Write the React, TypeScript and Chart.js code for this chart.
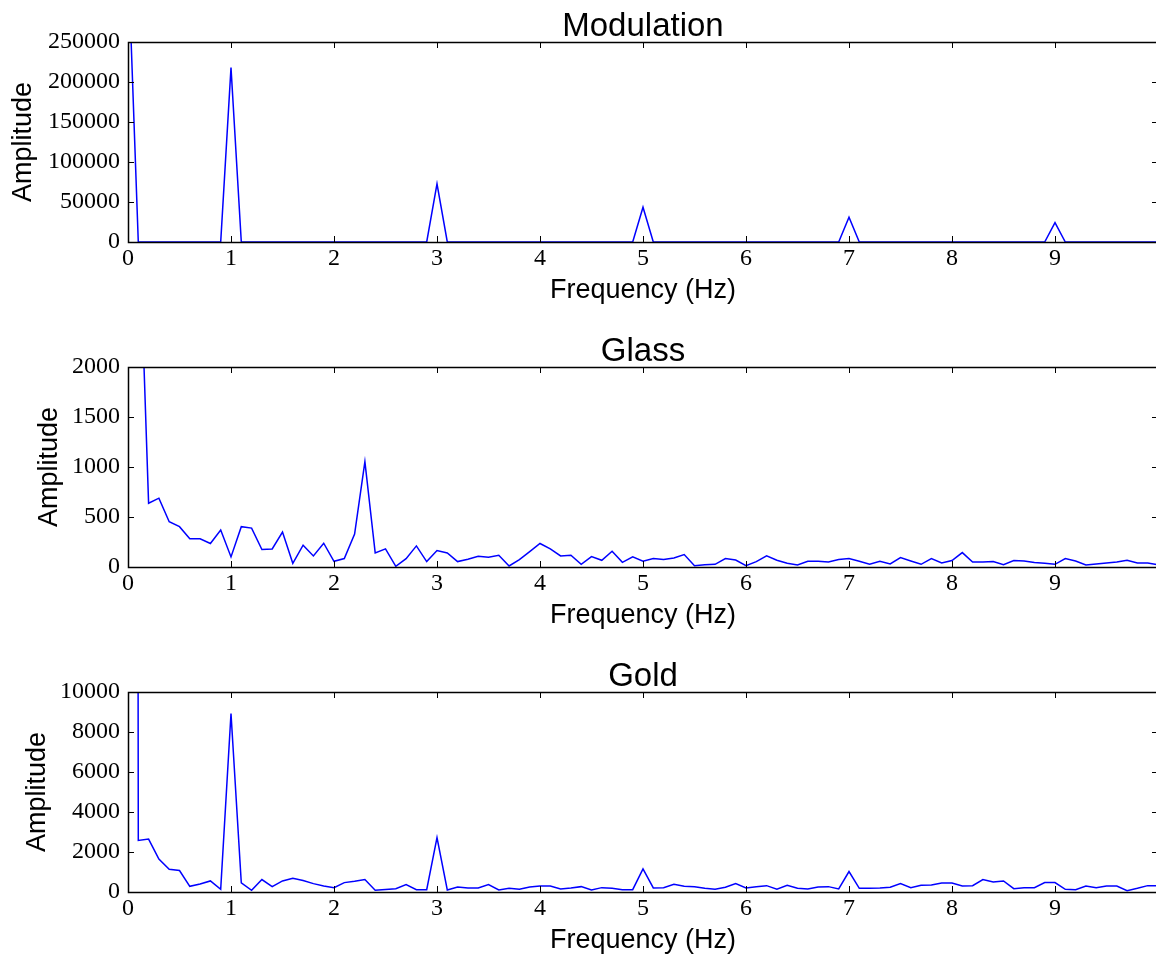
import React, { useEffect, useRef } from "react";
import { Chart, registerables } from "chart.js";

Chart.register(...registerables);

const frequencies = [
  0, 0.1, 0.2, 0.3, 0.4, 0.5, 0.6, 0.7, 0.8, 0.9,
  1, 1.1, 1.2, 1.3, 1.4, 1.5, 1.6, 1.7, 1.8, 1.9,
  2, 2.1, 2.2, 2.3, 2.4, 2.5, 2.6, 2.7, 2.8, 2.9,
  3, 3.1, 3.2, 3.3, 3.4, 3.5, 3.6, 3.7, 3.8, 3.9,
  4, 4.1, 4.2, 4.3, 4.4, 4.5, 4.6, 4.7, 4.8, 4.9,
  5, 5.1, 5.2, 5.3, 5.4, 5.5, 5.6, 5.7, 5.8, 5.9,
  6, 6.1, 6.2, 6.3, 6.4, 6.5, 6.6, 6.7, 6.8, 6.9,
  7, 7.1, 7.2, 7.3, 7.4, 7.5, 7.6, 7.7, 7.8, 7.9,
  8, 8.1, 8.2, 8.3, 8.4, 8.5, 8.6, 8.7, 8.8, 8.9,
  9, 9.1, 9.2, 9.3, 9.4, 9.5, 9.6, 9.7, 9.8, 9.9,
  10,
];

const modulation = [
  360000, 0, 0, 0, 0, 0, 0, 0, 0, 0,
  218000, 0, 0, 0, 0, 0, 0, 0, 0, 0,
  0, 0, 0, 0, 0, 0, 0, 0, 0, 0,
  72700, 0, 0, 0, 0, 0, 0, 0, 0, 0,
  0, 0, 0, 0, 0, 0, 0, 0, 0, 0,
  43500, 0, 0, 0, 0, 0, 0, 0, 0, 0,
  0, 0, 0, 0, 0, 0, 0, 0, 0, 0,
  31000, 0, 0, 0, 0, 0, 0, 0, 0, 0,
  0, 0, 0, 0, 0, 0, 0, 0, 0, 0,
  24200, 0, 0, 0, 0, 0, 0, 0, 0, 0,
  0,
];

const glass = [
  10000, 3700, 638, 688, 453, 403, 282, 282, 235, 369,
  101, 403, 389, 175, 181, 349, 37, 218, 111, 238,
  57, 84, 329, 1054, 141, 181, 7, 84, 211, 54,
  164, 141, 54, 77, 107, 97, 117, 10, 74, 154,
  235, 181, 111, 117, 27, 104, 67, 158, 47, 101,
  57, 84, 74, 91, 124, 13, 23, 27, 84, 70,
  13, 54, 111, 67, 37, 20, 57, 57, 50, 74,
  84, 57, 27, 57, 30, 94, 60, 27, 84, 40,
  64, 144, 50, 50, 54, 23, 64, 60, 44, 37,
  27, 84, 60, 20, 30, 40, 50, 67, 40, 40,
  23,
];

const gold = [
  400000, 2580, 2647, 1642, 1139, 1072, 285, 402, 553, 134,
  8928, 452, 84, 620, 268, 553, 687, 570, 419, 302,
  218, 469, 536, 620, 84, 130, 165, 368, 117, 117,
  2714, 100, 251, 201, 201, 368, 100, 184, 134, 251,
  302, 302, 151, 201, 268, 100, 218, 184, 117, 117,
  1156, 201, 218, 385, 285, 268, 184, 134, 234, 419,
  201, 268, 318, 134, 335, 184, 151, 251, 268, 151,
  1022, 184, 184, 201, 234, 419, 218, 335, 352, 452,
  452, 302, 318, 620, 503, 553, 168, 218, 218, 469,
  469, 134, 117, 302, 218, 302, 302, 67, 184, 318,
  318,
];

const xTickValues = [0, 1, 2, 3, 4, 5, 6, 7, 8, 9];
const modulationTicks = [0, 50000, 100000, 150000, 200000, 250000];
const glassTicks = [0, 500, 1000, 1500, 2000];
const goldTicks = [0, 2000, 4000, 6000, 8000, 10000];

const panels = [
  { title: "Modulation", values: modulation, yTicks: modulationTicks, top: 0, yTitlePad: 10.5 },
  { title: "Glass", values: glass, yTicks: glassTicks, top: 325, yTitlePad: 36.5 },
  { title: "Gold", values: gold, yTicks: goldTicks, top: 650, yTitlePad: 24 },
];

const CANVAS_W = 1158;
const CANVAS_H = 306;

const framePlugin = {
  id: "mplFrame",
  afterDatasetsDraw(chart: any) {
    const { ctx, chartArea, scales } = chart;
    const { left, right, top, bottom } = chartArea;
    ctx.save();
    ctx.strokeStyle = "#000";
    ctx.lineWidth = 1;
    ctx.beginPath();
    for (const t of scales.x.ticks) {
      const px = Math.round(scales.x.getPixelForValue(t.value)) + 0.5;
      ctx.moveTo(px, bottom);
      ctx.lineTo(px, bottom - 6);
      ctx.moveTo(px, top);
      ctx.lineTo(px, top + 6);
    }
    for (const t of scales.y.ticks) {
      const py = Math.round(scales.y.getPixelForValue(t.value)) + 0.5;
      ctx.moveTo(left, py);
      ctx.lineTo(left + 6, py);
      ctx.moveTo(right, py);
      ctx.lineTo(right - 6, py);
    }
    ctx.stroke();
    ctx.lineWidth = 1.5;
    ctx.strokeRect(Math.round(left) + 0.5, Math.round(top) + 0.5, Math.round(right - left), Math.round(bottom - top));
    ctx.restore();
  },
};

const sansFamily = "'Liberation Sans', Arial, sans-serif";
const serifFamily = "'Liberation Serif', serif";

function Panel({ title, values, yTicks, top, yTitlePad }: any) {
  const ref = useRef<HTMLCanvasElement>(null);
  useEffect(() => {
    const chart = new Chart(ref.current as HTMLCanvasElement, {
      type: "line",
      data: {
        datasets: [
          {
            data: frequencies.map((f, i) => ({ x: f, y: values[i] })),
            borderColor: "#0000ff",
            borderWidth: 1.5,
            pointRadius: 0,
            fill: false,
            tension: 0,
            clip: 0,
          } as any,
        ],
      },
      options: {
        animation: false,
        responsive: false,
        maintainAspectRatio: false,
        devicePixelRatio: 1,
        layout: { padding: 0 },
        plugins: {
          legend: { display: false },
          tooltip: { enabled: false },
          title: { display: false },
        },
        scales: {
          x: {
            type: "linear",
            min: 0,
            max: 10,
            grid: { display: false, drawTicks: false },
            border: { display: false },
            afterBuildTicks: (s: any) => {
              s.ticks = xTickValues.map((v) => ({ value: v }));
            },
            afterFit: (s: any) => {
              s.height = 64;
            },
            ticks: {
              color: "#000",
              font: { family: serifFamily, size: 24 },
              padding: 2,
              autoSkip: false,
              maxRotation: 0,
              callback: (v: any) => String(v),
            },
            title: {
              display: true,
              text: "Frequency (Hz)",
              color: "#000",
              font: { family: sansFamily, size: 27, lineHeight: 1 },
              padding: { top: 0, bottom: 1.5 },
            },
          },
          xTop: {
            type: "linear",
            position: "top",
            min: 0,
            max: 10,
            grid: { display: false, drawTicks: false },
            border: { display: false },
            ticks: { display: false },
            afterFit: (s: any) => {
              s.height = 42;
            },
            title: {
              display: true,
              text: title,
              color: "#000",
              font: { family: sansFamily, size: 33, lineHeight: 1 },
              padding: { top: 10.5, bottom: 0 },
            },
          },
          y: {
            type: "linear",
            min: 0,
            max: yTicks[yTicks.length - 1],
            grid: { display: false, drawTicks: false },
            border: { display: false },
            afterBuildTicks: (s: any) => {
              s.ticks = yTicks.map((v: number) => ({ value: v }));
            },
            afterFit: (s: any) => {
              s.width = 128;
            },
            ticks: {
              color: "#000",
              font: { family: serifFamily, size: 24 },
              padding: 8,
              autoSkip: false,
              callback: (v: any) => String(v),
            },
            title: {
              display: true,
              text: "Amplitude",
              color: "#000",
              font: { family: sansFamily, size: 27, lineHeight: 1 },
              padding: { top: yTitlePad, bottom: 0 },
            },
          },
        },
      } as any,
      plugins: [framePlugin],
    });
    return () => chart.destroy();
  }, []);
  return (
    <canvas
      ref={ref}
      width={CANVAS_W}
      height={CANVAS_H}
      style={{ position: "absolute", left: 0, top, width: CANVAS_W, height: CANVAS_H }}
    />
  );
}

export default function App() {
  return (
    <div
      style={{
        position: "absolute",
        left: 0,
        top: 0,
        width: 1156,
        height: 958,
        overflow: "hidden",
        background: "#fff",
      }}
    >
      {panels.map((p) => (
        <Panel key={p.title} {...p} />
      ))}
    </div>
  );
}
